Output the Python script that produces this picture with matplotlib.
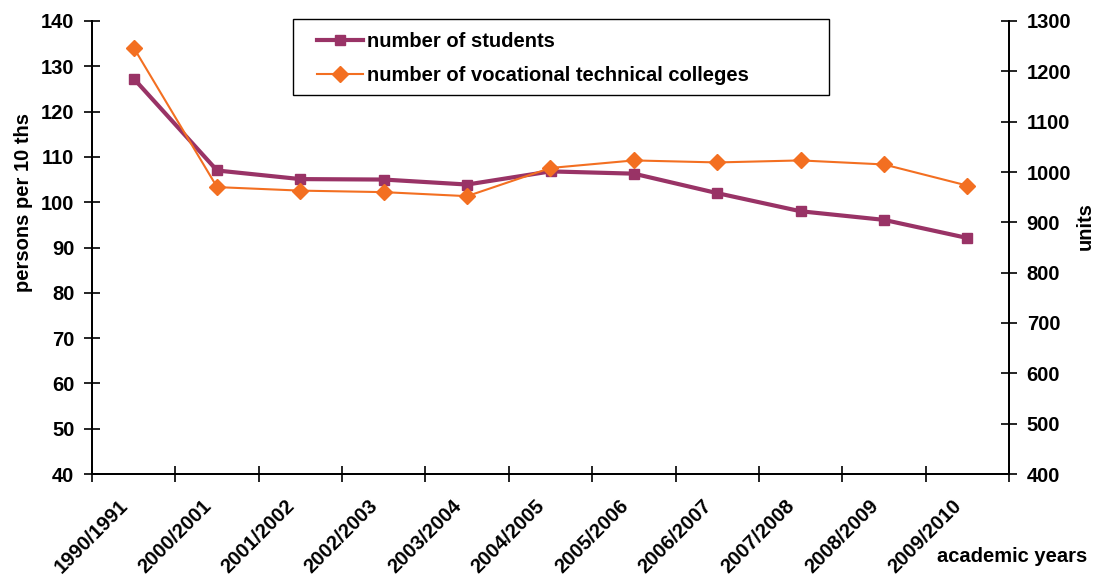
import numpy as np
import matplotlib.pyplot as plt
from matplotlib.patches import Rectangle

plt.rcParams['font.family'] = ['Liberation Sans', 'DejaVu Sans']
plt.rcParams['font.weight'] = 'bold'

years = ['1990/1991', '2000/2001', '2001/2002', '2002/2003', '2003/2004',
         '2004/2005', '2005/2006', '2006/2007', '2007/2008', '2008/2009', '2009/2010']
# persons per 10 ths (left axis)
students = [127.3, 107.0, 105.1, 105.0, 103.9, 106.8, 106.3, 102.0, 98.0, 96.1, 92.1]
# units (right axis)
colleges = [1247, 970, 963, 960, 952, 1008, 1023, 1019, 1023, 1015, 973]

c_students = '#993366'
c_colleges = '#F36F21'
fs = 14.5

fig = plt.figure(figsize=(11.02, 5.83), dpi=100)
ax = fig.add_axes([92 / 1102, 1 - 474 / 583, 917 / 1102, 453 / 583])
ax2 = ax.twinx()

x = np.arange(len(years)) + 0.5
l1, = ax.plot(x, students, color=c_students, lw=3, marker='s', ms=7.8,
              label='number of students', zorder=3)
l2, = ax2.plot(x, colleges, color=c_colleges, lw=1.5, marker='D', ms=7.8,
               label='number of vocational technical colleges', zorder=3)

ax.set_xlim(0, len(years))
ax.set_ylim(40, 140)
ax.set_yticks(np.arange(40, 141, 10))
ax2.set_ylim(400, 1300)
ax2.set_yticks(np.arange(400, 1301, 100))

ax.set_xticks(np.arange(len(years) + 1))
ax.set_xticklabels([])
for xi, lab in zip(x, years):
    ax.annotate(lab, xy=(xi, 0), xycoords=('data', 'axes fraction'),
                xytext=(-2, -22), textcoords='offset pixels',
                rotation=45, ha='right', va='top', fontsize=fs, fontweight='bold')

for a in (ax, ax2):
    a.spines['top'].set_visible(False)
    for s in a.spines.values():
        s.set_linewidth(1.3)
    a.tick_params(direction='inout', length=11.5, width=1.2, labelsize=fs, pad=7)

ax.set_ylabel('persons per 10 ths', fontsize=fs, fontweight='bold')
ax.yaxis.set_label_coords(-0.064, 0.6)
ax2.set_ylabel('units', fontsize=fs, fontweight='bold')
ax2.yaxis.set_label_coords(1.073, 0.547)
fig.text(1012 / 1102, 1 - 557 / 583, 'academic years', ha='center', va='center',
         fontsize=fs, fontweight='bold')

# legend box drawn separately so the padding matches
fig.patches.append(Rectangle((293 / 1102, 1 - 95 / 583), 536 / 1102, 76 / 583,
                             transform=fig.transFigure, fill=True, facecolor='white',
                             edgecolor='black', lw=1.0, zorder=5))
leg = fig.legend([l1, l2], [l1.get_label(), l2.get_label()],
                 loc='upper left', bbox_to_anchor=(317 / 1102, 1 - 32 / 583),
                 frameon=False, prop={'size': fs, 'weight': 'bold'},
                 handlelength=2.3, handletextpad=0.2, borderpad=0,
                 borderaxespad=0, labelspacing=0.75)
leg.set_zorder(6)

fig.savefig('out.png', dpi=100)
